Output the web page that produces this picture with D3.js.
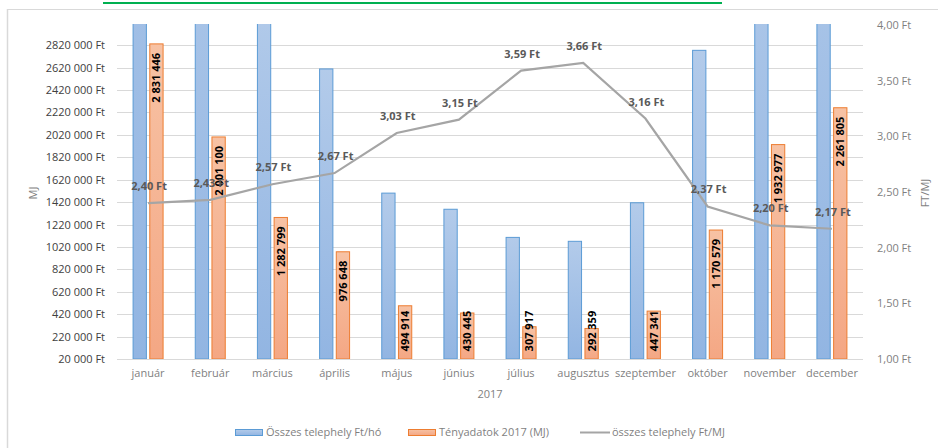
<!DOCTYPE html>
<html><head><meta charset="utf-8">
<script src="https://cdn.jsdelivr.net/npm/d3@7"></script>
<style>
html,body{margin:0;padding:0;background:#fff;}
svg{display:block;font-family:"Open Sans",sans-serif;}
</style></head>
<body><svg id="c" width="938" height="448"></svg>
<script>
const months = ["január","február","március","április","május","június","július","augusztus","szeptember","október","november","december"];
const costFt = [6795000,4863000,3297000,2608000,1500000,1356000,1105000,1070000,1414000,2774000,4253000,4908000];
const usageMJ = [2831446,2001100,1282799,976648,494914,430445,307917,292359,447341,1170579,1932977,2261805];
const ftPerMJ = [2.40,2.43,2.57,2.67,3.03,3.15,3.59,3.66,3.16,2.37,2.20,2.17];
const leftTicks = [20000,220000,420000,620000,820000,1020000,1220000,1420000,1620000,1820000,2020000,2220000,2420000,2620000,2820000];
const rightTicks = [1.0,1.5,2.0,2.5,3.0,3.5,4.0];
const seriesNames = ["Összes telephely Ft/hó","Tényadatok 2017 (MJ)","összes telephely Ft/MJ"];
const xTitle = "2017", yTitle = "MJ", y2Title = "FT/MJ";

const svg = d3.select("#c");
const L = 117, R = 863, T = 25, B = 359;

// decorations
svg.append("line").attr("x1",103).attr("x2",722).attr("y1",3).attr("y2",3).attr("stroke","#00B050").attr("stroke-width",2);
svg.append("line").attr("x1",7).attr("x2",938).attr("y1",9.5).attr("y2",9.5).attr("stroke","#D9D9D9").attr("stroke-width",1);
svg.append("line").attr("x1",7.5).attr("x2",7.5).attr("y1",9).attr("y2",448).attr("stroke","#D9D9D9").attr("stroke-width",1.5);

const defs = svg.append("defs");
const gb = defs.append("linearGradient").attr("id","gb").attr("x1",0).attr("x2",0).attr("y1",0).attr("y2",1);
gb.append("stop").attr("offset","0%").attr("stop-color","#B3CBEA");
gb.append("stop").attr("offset","100%").attr("stop-color","#92B5E2");
const go = defs.append("linearGradient").attr("id","go").attr("x1",0).attr("x2",0).attr("y1",0).attr("y2",1);
go.append("stop").attr("offset","0%").attr("stop-color","#F7C2A4");
go.append("stop").attr("offset","100%").attr("stop-color","#F4A784");
defs.append("clipPath").attr("id","clip").append("rect").attr("x",L).attr("y",T-1).attr("width",R-L).attr("height",B-T+1);

const x = d3.scaleBand().domain(months).range([L,R]);
const y = d3.scaleLinear().domain([20000,3000000]).range([B,T]);
const y2 = d3.scaleLinear().domain([1,4]).range([B,T]);

// gridlines
svg.append("g").selectAll("line").data(leftTicks.slice(1)).join("line")
  .attr("x1",L).attr("x2",R).attr("y1",d=>Math.round(y(d))+0.5).attr("y2",d=>Math.round(y(d))+0.5)
  .attr("stroke","#D9D9D9").attr("stroke-width",1);

// left axis
const la = svg.append("g").attr("transform",`translate(${L},0)`)
  .call(d3.axisLeft(y).tickValues(leftTicks).tickFormat(d=>{const s=String(d);return s.slice(0,-3)+" "+s.slice(-3)+" Ft";}).tickSize(0).tickPadding(12));
la.select(".domain").remove();
la.selectAll("text").attr("font-size",11).attr("fill","#404040").attr("font-family","Open Sans");

// right axis
const ra = svg.append("g").attr("transform",`translate(${R},0)`)
  .call(d3.axisRight(y2).tickValues(rightTicks).tickFormat(d=>d.toFixed(2).replace(".",",")+" Ft").tickSize(0).tickPadding(14));
ra.select(".domain").remove();
ra.selectAll("text").attr("font-size",11).attr("fill","#7F7F7F").attr("font-family","Open Sans");

// bars
const bw = 13.3, gap = 1.7;
const bars = svg.append("g").attr("clip-path","url(#clip)");
bars.selectAll("rect.b").data(months).join("rect").attr("class","b")
  .attr("x",(m)=>x(m)+x.bandwidth()/2-gap-bw).attr("width",bw)
  .attr("y",(m,i)=>y(costFt[i])).attr("height",(m,i)=>B-y(costFt[i]))
  .attr("fill","url(#gb)").attr("stroke","#5B9BD5").attr("stroke-width",1);
bars.selectAll("rect.o").data(months).join("rect").attr("class","o")
  .attr("x",(m)=>x(m)+x.bandwidth()/2+gap).attr("width",bw)
  .attr("y",(m,i)=>y(usageMJ[i])).attr("height",(m,i)=>B-y(usageMJ[i]))
  .attr("fill","url(#go)").attr("stroke","#ED7D31").attr("stroke-width",1);

// axis baseline
svg.append("line").attr("x1",L).attr("x2",R).attr("y1",B+0.5).attr("y2",B+0.5).attr("stroke","#D9D9D9").attr("stroke-width",1.2);

// x labels
const xa = svg.append("g").attr("transform",`translate(0,${B})`).call(d3.axisBottom(x).tickSize(0).tickPadding(10));
xa.select(".domain").remove();
xa.selectAll("text").attr("font-size",11).attr("fill","#7F7F7F").attr("font-family","Open Sans");

// orange labels (vertical)
const fmtSp = d => d3.format(",")(d).replace(/,/g," ");
svg.append("g").selectAll("text").data(months).join("text")
  .each(function(m,i){
    const cx = x(m)+x.bandwidth()/2+gap+bw/2;
    const txt = fmtSp(usageMJ[i]);
    const len = txt.length*5.6;
    const top = Math.min(y(usageMJ[i])+9, B-9-len);
    d3.select(this).attr("transform",`translate(${cx+4},${top}) rotate(-90)`)
      .attr("text-anchor","end").attr("font-size",11).attr("font-weight","bold").attr("fill","#000").text(txt);
  });

// line
const line = d3.line().x((d,i)=>x(months[i])+x.bandwidth()/2).y(d=>y2(d));
svg.append("path").datum(ftPerMJ).attr("d",line).attr("fill","none").attr("stroke","#A5A5A5").attr("stroke-width",2.2);
svg.append("g").selectAll("text").data(ftPerMJ).join("text")
  .attr("x",(d,i)=>x(months[i])+x.bandwidth()/2+1).attr("y",d=>y2(d)-13)
  .attr("text-anchor","middle").attr("font-size",11).attr("font-weight","bold").attr("fill","#595959")
  .text(d=>d.toFixed(2).replace(".",",")+" Ft");

// titles
svg.append("text").attr("x",490).attr("y",398).attr("text-anchor","middle").attr("font-size",11).attr("fill","#7F7F7F").text(xTitle);
svg.append("text").attr("transform","translate(37,193) rotate(-90)").attr("text-anchor","middle").attr("font-size",11).attr("fill","#7F7F7F").text(yTitle);
svg.append("text").attr("transform","translate(929,193) rotate(-90)").attr("text-anchor","middle").attr("font-size",11).attr("fill","#7F7F7F").text(y2Title);

// legend
const lg = svg.append("g").attr("font-size",11).attr("fill","#7F7F7F");
lg.append("rect").attr("x",235.5).attr("y",429.5).attr("width",27).attr("height",6).attr("fill","url(#gb)").attr("stroke","#5B9BD5");
lg.append("text").attr("x",266).attr("y",436).attr("fill","#7F7F7F").text(seriesNames[0]);
lg.append("rect").attr("x",408.5).attr("y",429.5).attr("width",27).attr("height",6).attr("fill","url(#go)").attr("stroke","#ED7D31");
lg.append("text").attr("x",439).attr("y",436).attr("fill","#7F7F7F").text(seriesNames[1]);
lg.append("line").attr("x1",580).attr("x2",610).attr("y1",432.5).attr("y2",432.5).attr("stroke","#A5A5A5").attr("stroke-width",2);
lg.append("text").attr("x",612).attr("y",436).attr("fill","#7F7F7F").text(seriesNames[2]);
</script></body></html>
